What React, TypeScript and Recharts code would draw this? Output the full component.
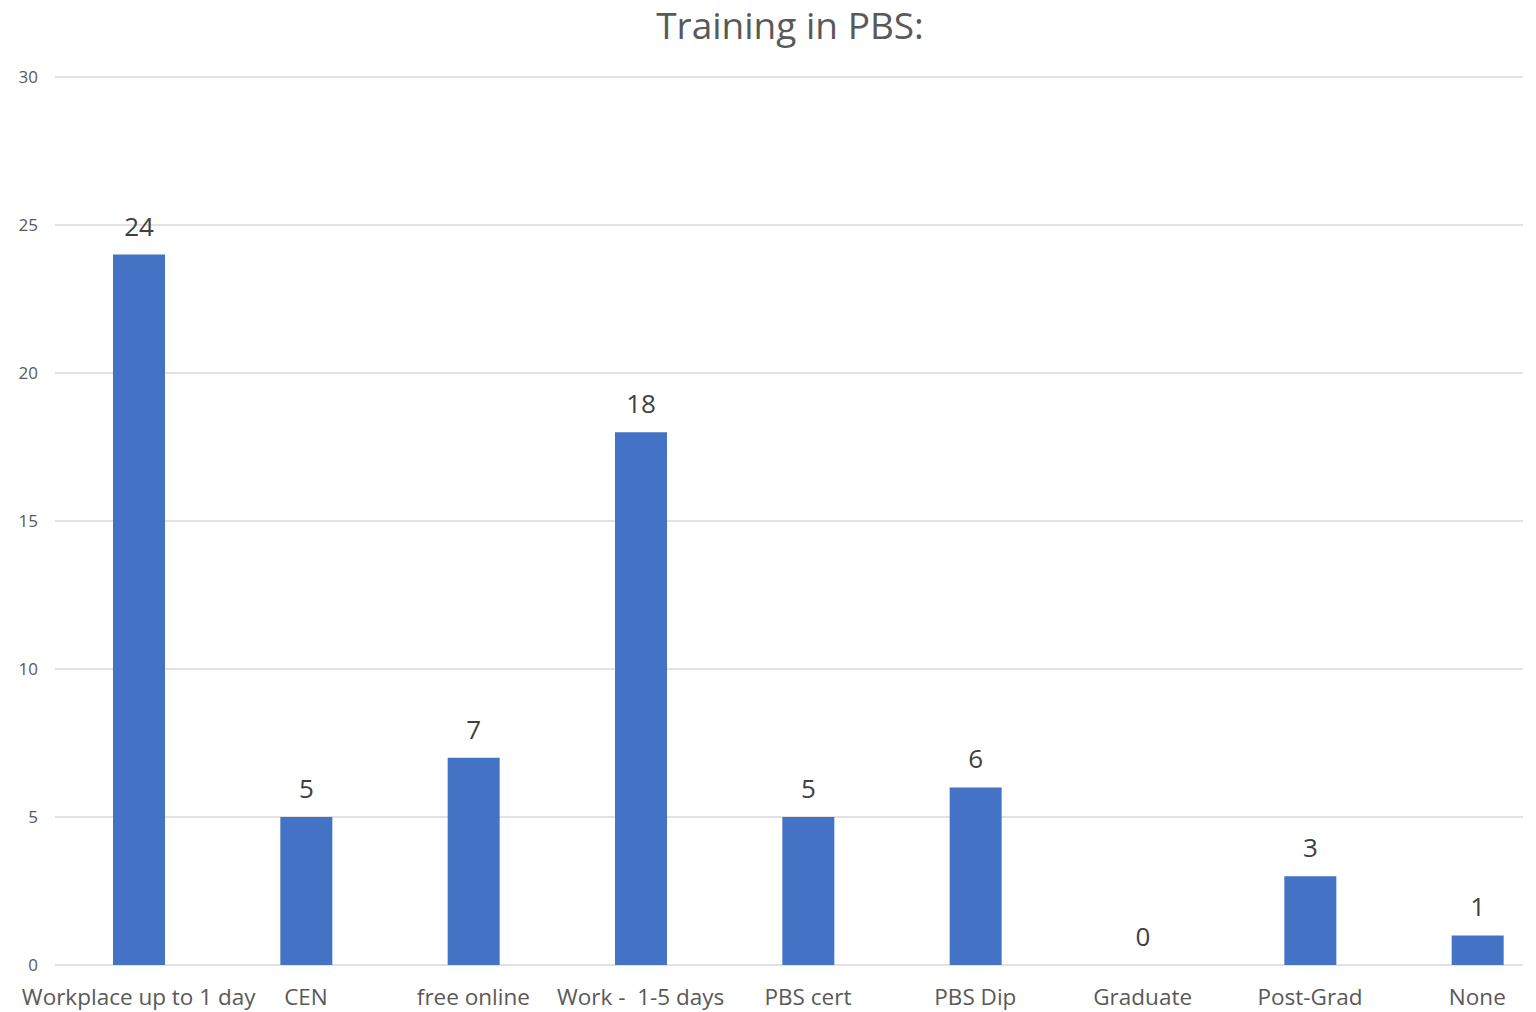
import React from "react";
import { BarChart, Bar, XAxis, YAxis, CartesianGrid, LabelList } from "recharts";

const categories = [
  "Workplace up to 1 day",
  "CEN",
  "free online",
  "Work -  1-5 days",
  "PBS cert",
  "PBS Dip",
  "Graduate",
  "Post-Grad",
  "None",
];
const counts = [24, 5, 7, 18, 5, 6, 0, 3, 1];
const yTicks = [0, 5, 10, 15, 20, 25, 30];
const title = "Training in PBS:";

const data = categories.map((name, i) => ({ name, value: counts[i] }));

const FONT = "'Open Sans', 'Noto Sans', sans-serif";

const GridLine = (props: any) => {
  const { x1, x2, y1, y2 } = props;
  return <line x1={x1} x2={x2 - 38} y1={y1} y2={y2} stroke="#d9d9d9" strokeWidth={1.5} />;
};

const XTick = (props: any) => {
  const { x, y, payload } = props;
  return (
    <text
      x={x}
      y={y}
      dy={24}
      textAnchor="middle"
      fill="#595959"
      fontSize={22.5}
      fontFamily={FONT}
      style={{ whiteSpace: "pre" }}
    >
      {payload.value}
    </text>
  );
};

const ValueLabel = (props: any) => {
  const { x, y, width, value } = props;
  return (
    <text
      x={Number(x) + Number(width) / 2}
      y={Number(y) - 19}
      textAnchor="middle"
      fill="#404040"
      fontSize={26}
      fontFamily={FONT}
    >
      {value}
    </text>
  );
};

export default function App() {
  return (
    <div
      style={{
        position: "absolute",
        left: 0,
        top: 0,
        width: 1536,
        height: 1012,
        overflow: "hidden",
        background: "#fff",
        fontFamily: FONT,
      }}
    >
      <div
        style={{
          position: "absolute",
          left: 790,
          top: 2,
          transform: "translateX(-50%)",
          fontSize: 37,
          color: "#595959",
          whiteSpace: "nowrap",
          lineHeight: "46px",
        }}
      >
        {title}
      </div>
      <BarChart
        width={1580}
        height={1012}
        data={data}
        margin={{ top: 77, right: 19, bottom: 17, left: 0 }}
        barCategoryGap={0}
      >
        <CartesianGrid vertical={false} horizontal={(p: any) => <GridLine key={p.key} {...p} />} />
        <XAxis
          dataKey="name"
          axisLine={false}
          tickLine={false}
          tickSize={0}
          tickMargin={16}
          interval={0}
          height={30}
          tick={<XTick />}
        />
        <YAxis
          width={55}
          domain={[0, 30]}
          ticks={yTicks}
          axisLine={false}
          tickLine={false}
          tickSize={0}
          tickMargin={17}
          tick={{ fill: "#595959", fontSize: 17, fontFamily: FONT }}
        />
        <Bar
          dataKey="value"
          fill="#4472C4"
          barSize={52}
          minPointSize={0.01}
          isAnimationActive={false}
        >
          <LabelList dataKey="value" content={<ValueLabel />} />
        </Bar>
      </BarChart>
    </div>
  );
}
